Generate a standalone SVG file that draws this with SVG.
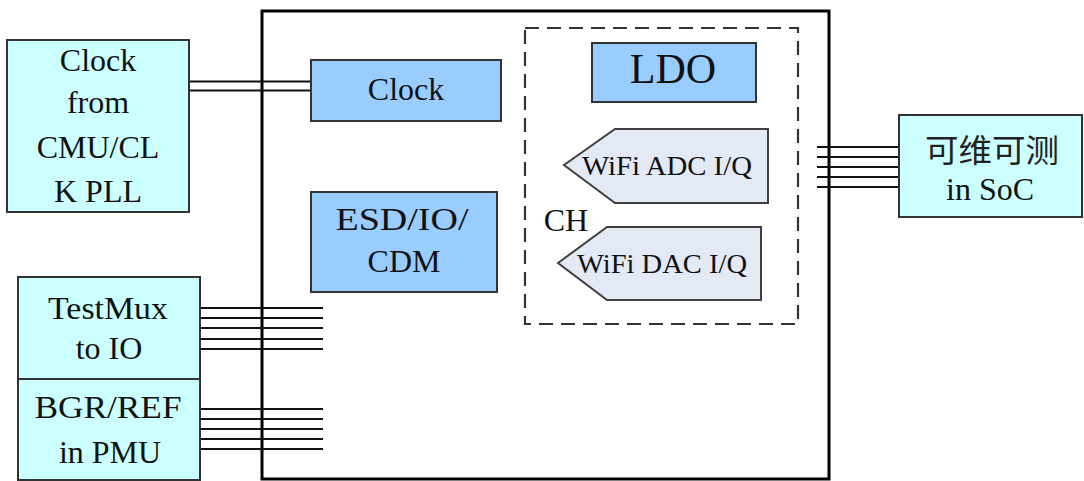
<svg xmlns="http://www.w3.org/2000/svg" width="1084" height="481" viewBox="0 0 1084 481">
<style>
.ext{fill:#CCFFFF;stroke:#333333;stroke-width:2}
.blk{fill:#99CCFF;stroke:#333333;stroke-width:2}
.pent{fill:#E3E9F5;stroke:#404040;stroke-width:2}
.w{stroke:#111111;stroke-width:2;fill:none}
.t{font-family:"Liberation Serif","Times New Roman",serif;font-size:32px;fill:#111111;text-anchor:middle}
.cjk{font-family:"Noto Sans CJK SC",sans-serif;font-size:32px;fill:#222222;text-anchor:middle}
</style>
<rect width="1084" height="481" fill="#ffffff"/>
<g id="chip">
<rect x="262" y="11" width="567" height="468" fill="#ffffff" stroke="#000000" stroke-width="3"/>
</g>
<g id="connectors">
<path class="w" d="M189 81.5H311M189 90.5H311"/>
<path class="w" d="M200 308H323M200 318H323M200 328H323M200 339H323M200 349H323"/>
<path class="w" d="M200 409H323M200 419H323M200 429H323M200 439H323M200 449H323"/>
<path class="w" d="M817 147H899M817 157H899M817 167H899M817 177H899M817 187H899"/>
</g>
<g id="ch-group">
<rect x="525" y="28" width="273" height="296" fill="none" stroke="#333333" stroke-width="2.2" stroke-dasharray="14,8"/>
<text class="t" x="566" y="231">CH</text>
</g>
<g id="clock-from">
<rect class="ext" x="7" y="40" width="182" height="172"/>
<text class="t" x="98" y="71">Clock</text>
<text class="t" x="98" y="113">from</text>
<text class="t" x="98" y="158">CMU/CL</text>
<text class="t" x="98" y="202">K PLL</text>
</g>
<g id="testmux">
<rect class="ext" x="18" y="277" width="182" height="102"/>
<text class="t" x="108" y="319" textLength="120" lengthAdjust="spacingAndGlyphs">TestMux</text>
<text class="t" x="109" y="359">to IO</text>
</g>
<g id="bgr">
<rect class="ext" x="18" y="379" width="182" height="101"/>
<text class="t" x="108" y="418" textLength="147" lengthAdjust="spacingAndGlyphs">BGR/REF</text>
<text class="t" x="110" y="463">in PMU</text>
</g>
<g id="clock">
<rect class="blk" x="311" y="60" width="190" height="61"/>
<text class="t" x="406" y="100">Clock</text>
</g>
<g id="esd">
<rect class="blk" x="311" y="192" width="186" height="100"/>
<text class="t" x="402" y="230" textLength="133" lengthAdjust="spacingAndGlyphs">ESD/IO/</text>
<text class="t" x="404" y="272">CDM</text>
</g>
<g id="ldo">
<rect class="blk" x="592" y="43" width="164" height="59"/>
<text class="t" x="673" y="83" style="font-size:42px">LDO</text>
</g>
<g id="adc">
<polygon class="pent" points="564,165 615,129 768,129 768,203 615,203"/>
<text class="t" x="667" y="175" style="font-size:28px" textLength="170" lengthAdjust="spacingAndGlyphs">WiFi ADC I/Q</text>
</g>
<g id="dac">
<polygon class="pent" points="558,263 607,227 761,227 761,300 607,300"/>
<text class="t" x="662" y="273" style="font-size:28px" textLength="170" lengthAdjust="spacingAndGlyphs">WiFi DAC I/Q</text>
</g>
<g id="dft">
<rect class="ext" x="899" y="115" width="183" height="102"/>
<text class="cjk" x="992" y="162" textLength="134" lengthAdjust="spacingAndGlyphs">可维可测</text>
<text class="t" x="990" y="200">in SoC</text>
</g>
</svg>
